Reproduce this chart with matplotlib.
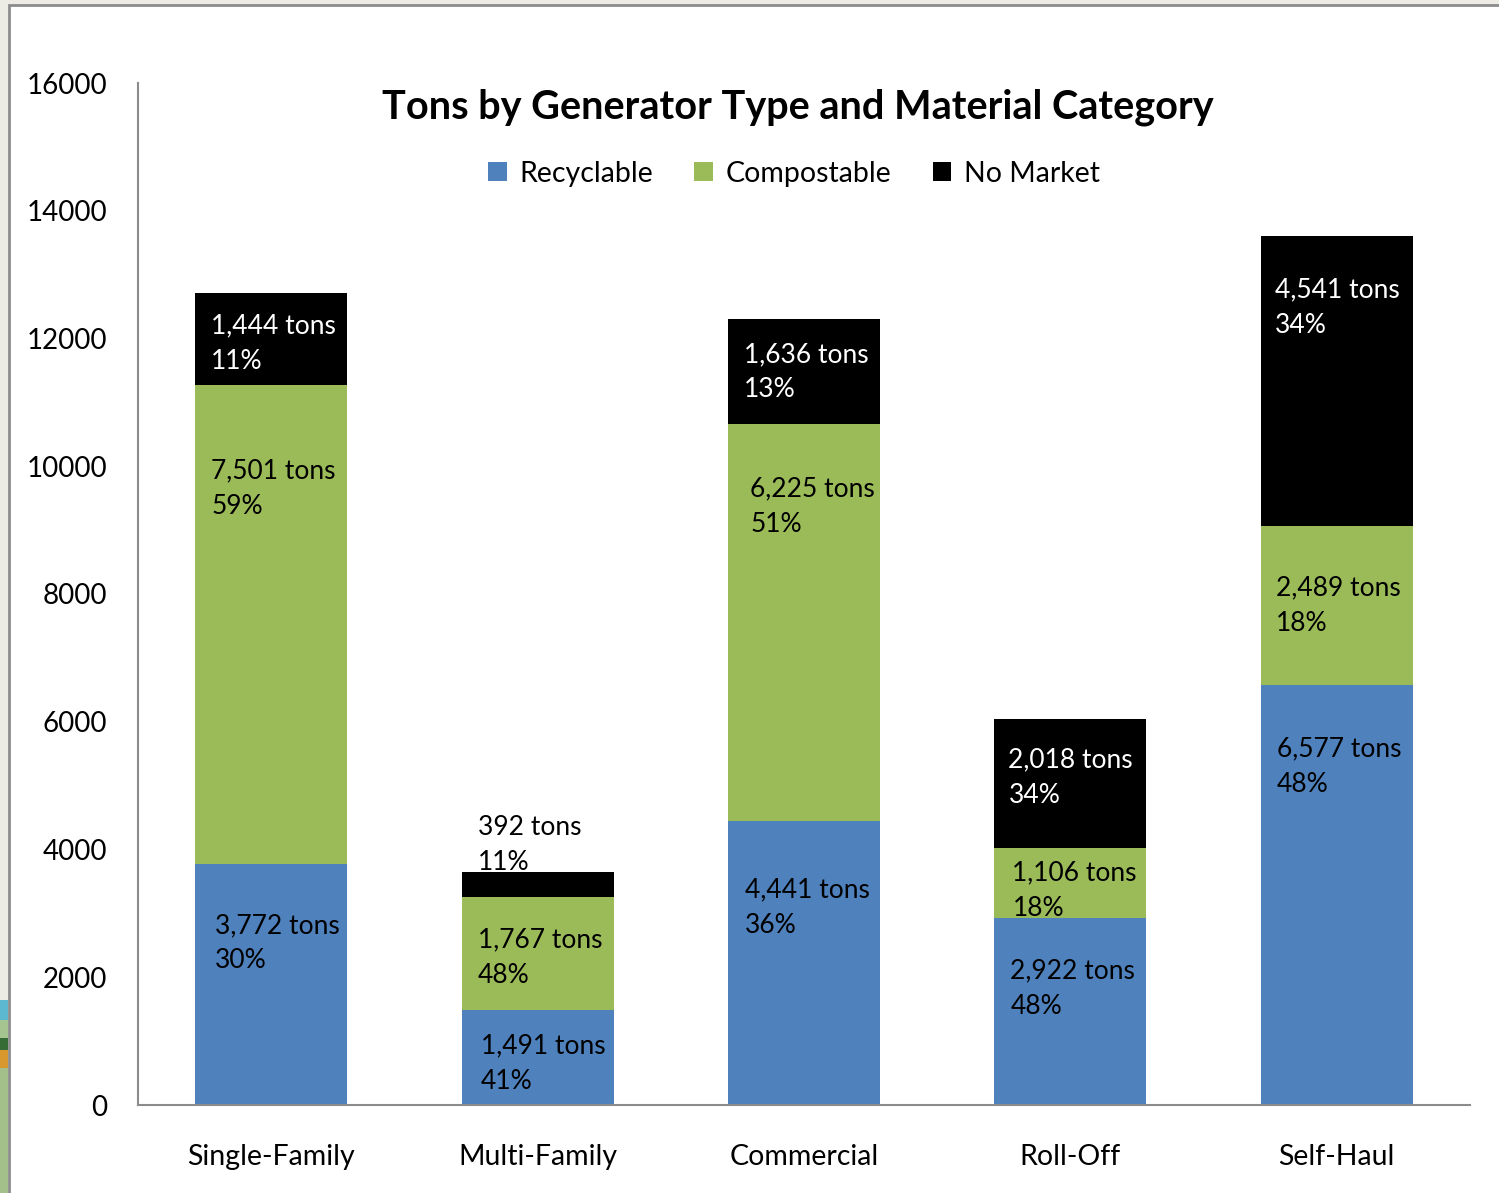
import matplotlib.pyplot as plt
from matplotlib.patches import Rectangle, Patch

plt.rcParams['font.family'] = ['Lato', 'DejaVu Sans']

categories = ["Single-Family", "Multi-Family", "Commercial", "Roll-Off", "Self-Haul"]
series = ["Recyclable", "Compostable", "No Market"]
recyclable = [3772, 1491, 4441, 2922, 6577]
compostable = [7501, 1767, 6225, 1106, 2489]
no_market = [1444, 392, 1636, 2018, 4541]
pct_recyclable = [30, 41, 36, 48, 48]
pct_compostable = [59, 48, 51, 18, 18]
pct_no_market = [11, 11, 13, 34, 34]

colors = ["#4F81BD", "#9BBB59", "#000000"]
label_colors = ["#000000", "#000000", "#FFFFFF"]
label_colors_mf_nm = "#000000"

# label offsets (pixels) from the top-left corner of each segment: (dx, dy down)
label_dx = [[20, 16, 16], [19, 16, 16], [17, 22, 16], [16, 18, 14], [16, 15, 14]]
label_dy = [[60, 85, 32], [35, 42, -46], [67, 64, 34], [51, 24, 40], [63, 61, 53]]

fig = plt.figure(figsize=(14.99, 11.93), dpi=100, facecolor="#ECEBE4")
# white chart panel with grey border
fig.patches.append(Rectangle((9 / 1499, -0.01), 1.0, 1 - 5 / 1193 + 0.01, transform=fig.transFigure,
                             facecolor="white", edgecolor="#8C8C8C", linewidth=2, zorder=-2))
# bits of background picture at the left edge
for y0, h, c in [(1000, 20, "#5BB8D0"), (1020, 20, "#A6C48F"), (1038, 12, "#356B35"),
                 (1050, 18, "#D9982E"), (1068, 125, "#A3C08A")]:
    fig.patches.append(Rectangle((0, 1 - (y0 + h) / 1193), 8 / 1499, h / 1193,
                                 transform=fig.transFigure, facecolor=c, edgecolor="none", zorder=-2))

ax = fig.add_axes([138 / 1499, 1 - 1105 / 1193, (1470 - 138) / 1499, (1105 - 83) / 1193])
ax.set_facecolor("none")
ax.set_zorder(1)

x = list(range(len(categories)))
width = 0.57
stack = [recyclable, compostable, no_market]
pcts = [pct_recyclable, pct_compostable, pct_no_market]
bottom = [0] * len(categories)
for s, (vals, pct) in enumerate(zip(stack, pcts)):
    ax.bar(x, vals, width, bottom=bottom, color=colors[s], label=series[s], zorder=2)
    for i, v in enumerate(vals):
        top = bottom[i] + v
        col = label_colors[s]
        if label_dy[i][s] < 0:
            col = label_colors_mf_nm
        ax.annotate(f"{v:,} tons\n{pct[i]}%", xy=(x[i] - width / 2, top), xycoords="data",
                    xytext=(label_dx[i][s], -label_dy[i][s] - 19), textcoords="offset pixels",
                    ha="left", va="center", fontsize=19, color=col, linespacing=1.52, zorder=3)
    bottom = [b + v for b, v in zip(bottom, vals)]

ax.set_xlim(-0.5, len(categories) - 0.5)
ax.set_ylim(0, 16000)
ax.set_yticks(range(0, 16001, 2000))
ax.set_yticklabels([str(t) for t in range(0, 16001, 2000)])
ax.set_xticks(x)
ax.set_xticklabels(categories)
ax.tick_params(axis="y", length=0, pad=22, labelsize=20)
ax.tick_params(axis="x", length=0, pad=28, labelsize=20.5)
for side in ["top", "right"]:
    ax.spines[side].set_visible(False)
for side in ["left", "bottom"]:
    ax.spines[side].set_color("#8C8C8C")
    ax.spines[side].set_linewidth(1.5)

ax.text(0.4955, 0.976, "Tons by Generator Type and Material Category", transform=ax.transAxes,
        ha="center", va="center", fontsize=28.5, fontweight="bold")

handles = [Patch(facecolor=c, edgecolor="none") for c in colors]
ax.legend(handles, series, loc="center", bbox_to_anchor=(0.4925, 0.911), ncol=3, frameon=False,
          fontsize=20.5, handlelength=0.65, handleheight=0.65, handletextpad=0.45, columnspacing=1.45)

fig.savefig("out.png", dpi=100, facecolor=fig.get_facecolor())
